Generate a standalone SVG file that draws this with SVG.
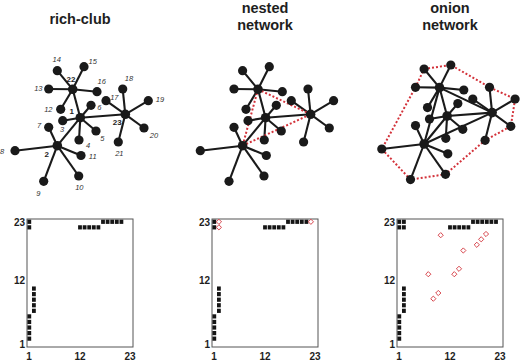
<svg xmlns="http://www.w3.org/2000/svg" xmlns:xlink="http://www.w3.org/1999/xlink" width="520" height="362" viewBox="0 0 520 362">
<style>
.t{font-family:"Liberation Sans",Arial,sans-serif;font-weight:bold;font-size:14.5px;fill:#1e1e1e;text-anchor:middle}
.ax{font-family:"Liberation Sans",Arial,sans-serif;font-weight:bold;font-size:10px;fill:#1e1e1e}
.lb{font-family:"Liberation Sans",Arial,sans-serif;font-style:italic;font-size:7.5px;fill:#333;text-anchor:middle}
.hb{font-family:"Liberation Sans",Arial,sans-serif;font-weight:bold;font-size:8px;fill:#1e1e1e;text-anchor:middle}
.e{stroke:#1a1a1a;stroke-width:2.1;fill:none}
.r{stroke:#d3323a;stroke-width:2;stroke-dasharray:2 2;fill:none}
.n{fill:#1a1a1a}
.box{fill:#fff;stroke:#555;stroke-width:1}
.sq{fill:#151515}
.dm{fill:#fff;stroke:#d3323a;stroke-width:0.9}
</style>
<defs>
<path id="dia" class="dm" d="M0,-2.6 L2.6,0 L0,2.6 L-2.6,0Z"/>
<g id="sqbase" class="sq">
<rect x="27.4" y="336.55" width="3.8" height="4.2"/><rect x="27.4" y="330.99" width="3.8" height="4.2"/><rect x="27.4" y="325.42" width="3.8" height="4.2"/><rect x="27.4" y="319.86" width="3.8" height="4.2"/><rect x="27.4" y="314.29" width="3.8" height="4.2"/>
<rect x="27.4" y="225.25" width="3.8" height="4.2"/><rect x="27.4" y="219.69" width="3.8" height="4.2"/>
<rect x="32" y="308.73" width="3.8" height="4.2"/><rect x="32" y="303.16" width="3.8" height="4.2"/><rect x="32" y="297.6" width="3.8" height="4.2"/><rect x="32" y="292.03" width="3.8" height="4.2"/><rect x="32" y="286.47" width="3.8" height="4.2"/>
<rect x="78.1" y="225.25" width="3.8" height="4.2"/><rect x="82.7" y="225.25" width="3.8" height="4.2"/><rect x="87.3" y="225.25" width="3.8" height="4.2"/><rect x="91.9" y="225.25" width="3.8" height="4.2"/><rect x="96.5" y="225.25" width="3.8" height="4.2"/>
<rect x="101.1" y="219.69" width="3.8" height="4.2"/><rect x="105.7" y="219.69" width="3.8" height="4.2"/><rect x="110.3" y="219.69" width="3.8" height="4.2"/><rect x="114.9" y="219.69" width="3.8" height="4.2"/><rect x="119.5" y="219.69" width="3.8" height="4.2"/>
</g>
<g id="axes">
<rect class="box" x="27" y="219" width="106" height="128"/>
<text class="ax" x="25" y="226" text-anchor="end">23</text>
<text class="ax" x="25" y="283.5" text-anchor="end">12</text>
<text class="ax" x="25" y="347.5" text-anchor="end">1</text>
<text class="ax" x="29" y="359.5" text-anchor="middle">1</text>
<text class="ax" x="80" y="359.5" text-anchor="middle">12</text>
<text class="ax" x="130" y="359.5" text-anchor="middle">23</text>
</g>
</defs>

<g id="titles">
<text class="t" x="80" y="23.5">rich-club</text>
<text class="t" x="265" y="12.7">nested</text>
<text class="t" x="265" y="30">network</text>
<text class="t" x="450" y="12.7">onion</text>
<text class="t" x="450" y="30">network</text>
</g>

<!-- rich-club network -->
<g id="rc">
<g id="rc-connectors" class="e">
<line x1="72.7" y1="89.3" x2="57.3" y2="70.7"/><line x1="72.7" y1="89.3" x2="84" y2="66.7"/><line x1="72.7" y1="89.3" x2="48.7" y2="89"/><line x1="72.7" y1="89.3" x2="97" y2="91.7"/><line x1="72.7" y1="89.3" x2="60.7" y2="109.3"/>
<line x1="80.3" y1="117.7" x2="62.7" y2="120.7"/><line x1="80.3" y1="117.7" x2="79" y2="140"/><line x1="80.3" y1="117.7" x2="96" y2="131"/><line x1="80.3" y1="117.7" x2="91" y2="105.3"/>
<line x1="125.3" y1="114.3" x2="106" y2="100.7"/><line x1="125.3" y1="114.3" x2="122.7" y2="89"/><line x1="125.3" y1="114.3" x2="148.3" y2="100.7"/><line x1="125.3" y1="114.3" x2="144" y2="128"/><line x1="125.3" y1="114.3" x2="118.3" y2="142"/>
<line x1="57.3" y1="145.7" x2="48.7" y2="127.3"/><line x1="57.3" y1="145.7" x2="15" y2="150.7"/><line x1="57.3" y1="145.7" x2="43.7" y2="181.3"/><line x1="57.3" y1="145.7" x2="78.7" y2="176"/><line x1="57.3" y1="145.7" x2="81" y2="155.5"/>
<line x1="80.3" y1="117.7" x2="57.3" y2="145.7"/><line x1="80.3" y1="117.7" x2="72.7" y2="89.3"/><line x1="80.3" y1="117.7" x2="125.3" y2="114.3"/>
</g>
<g id="rc-1"><circle class="n" cx="80.3" cy="117.7" r="4.8"/><text class="hb" x="71.7" y="113.9">1</text></g>
<g id="rc-2"><circle class="n" cx="57.3" cy="145.7" r="4.8"/><text class="hb" x="46.7" y="157.2">2</text></g>
<g id="rc-3"><circle class="n" cx="62.7" cy="120.7" r="4.6"/><text class="lb" x="62" y="132.4">3</text></g>
<g id="rc-4"><circle class="n" cx="79" cy="140" r="4.6"/><text class="lb" x="88" y="147.7">4</text></g>
<g id="rc-5"><circle class="n" cx="96" cy="131" r="4.6"/><text class="lb" x="102.3" y="141.4">5</text></g>
<g id="rc-6"><circle class="n" cx="91" cy="105.3" r="4.6"/><text class="lb" x="99.3" y="110.4">6</text></g>
<g id="rc-7"><circle class="n" cx="48.7" cy="127.3" r="4.6"/><text class="lb" x="39" y="128">7</text></g>
<g id="rc-8"><circle class="n" cx="15" cy="150.7" r="4.6"/><text class="lb" x="2" y="153.7">8</text></g>
<g id="rc-9"><circle class="n" cx="43.7" cy="181.3" r="4.6"/><text class="lb" x="38.3" y="196">9</text></g>
<g id="rc-10"><circle class="n" cx="78.7" cy="176" r="4.6"/><text class="lb" x="79.3" y="190">10</text></g>
<g id="rc-11"><circle class="n" cx="81" cy="155.5" r="4.6"/><text class="lb" x="92.7" y="159.4">11</text></g>
<g id="rc-12"><circle class="n" cx="60.7" cy="109.3" r="4.6"/><text class="lb" x="48.3" y="112">12</text></g>
<g id="rc-13"><circle class="n" cx="48.7" cy="89" r="4.6"/><text class="lb" x="38.3" y="91">13</text></g>
<g id="rc-14"><circle class="n" cx="57.3" cy="70.7" r="4.6"/><text class="lb" x="56.7" y="62">14</text></g>
<g id="rc-15"><circle class="n" cx="84" cy="66.7" r="4.6"/><text class="lb" x="92.7" y="64">15</text></g>
<g id="rc-16"><circle class="n" cx="97" cy="91.7" r="4.6"/><text class="lb" x="101.7" y="84.4">16</text></g>
<g id="rc-17"><circle class="n" cx="106" cy="100.7" r="4.6"/><text class="lb" x="114.3" y="100.4">17</text></g>
<g id="rc-18"><circle class="n" cx="122.7" cy="89" r="4.6"/><text class="lb" x="129" y="81">18</text></g>
<g id="rc-19"><circle class="n" cx="148.3" cy="100.7" r="4.6"/><text class="lb" x="160" y="102">19</text></g>
<g id="rc-20"><circle class="n" cx="144" cy="128" r="4.6"/><text class="lb" x="154" y="138">20</text></g>
<g id="rc-21"><circle class="n" cx="118.3" cy="142" r="4.6"/><text class="lb" x="119.3" y="156.4">21</text></g>
<g id="rc-22"><circle class="n" cx="72.7" cy="89.3" r="4.8"/><text class="hb" x="71" y="82.2">22</text></g>
<g id="rc-23"><circle class="n" cx="125.3" cy="114.3" r="4.8"/><text class="hb" x="117.3" y="124.9">23</text></g>
</g>

<!-- nested network -->
<g id="nn" transform="translate(185.3,0)">
<g id="nn-connectors">
<g class="e">
<line x1="72.7" y1="89.3" x2="57.3" y2="70.7"/><line x1="72.7" y1="89.3" x2="84" y2="66.7"/><line x1="72.7" y1="89.3" x2="48.7" y2="89"/><line x1="72.7" y1="89.3" x2="97" y2="91.7"/><line x1="72.7" y1="89.3" x2="60.7" y2="109.3"/>
<line x1="80.3" y1="117.7" x2="62.7" y2="120.7"/><line x1="80.3" y1="117.7" x2="79" y2="140"/><line x1="80.3" y1="117.7" x2="96" y2="131"/><line x1="80.3" y1="117.7" x2="91" y2="105.3"/>
<line x1="125.3" y1="114.3" x2="106" y2="100.7"/><line x1="125.3" y1="114.3" x2="122.7" y2="89"/><line x1="125.3" y1="114.3" x2="148.3" y2="100.7"/><line x1="125.3" y1="114.3" x2="144" y2="128"/><line x1="125.3" y1="114.3" x2="118.3" y2="142"/>
<line x1="57.3" y1="145.7" x2="48.7" y2="127.3"/><line x1="57.3" y1="145.7" x2="15" y2="150.7"/><line x1="57.3" y1="145.7" x2="43.7" y2="181.3"/><line x1="57.3" y1="145.7" x2="78.7" y2="176"/><line x1="57.3" y1="145.7" x2="81" y2="155.5"/>
<line x1="80.3" y1="117.7" x2="57.3" y2="145.7"/><line x1="80.3" y1="117.7" x2="72.7" y2="89.3"/><line x1="80.3" y1="117.7" x2="125.3" y2="114.3"/>
</g>
<g class="r">
<line x1="72.7" y1="89.3" x2="57.3" y2="145.7"/><line x1="72.7" y1="89.3" x2="125.3" y2="114.3"/><line x1="57.3" y1="145.7" x2="125.3" y2="114.3"/>
</g>
</g>
<g id="nn-1"><circle class="n" cx="80.3" cy="117.7" r="4.8"/></g>
<g id="nn-2"><circle class="n" cx="57.3" cy="145.7" r="4.8"/></g>
<g id="nn-3"><circle class="n" cx="62.7" cy="120.7" r="4.6"/></g>
<g id="nn-4"><circle class="n" cx="79" cy="140" r="4.6"/></g>
<g id="nn-5"><circle class="n" cx="96" cy="131" r="4.6"/></g>
<g id="nn-6"><circle class="n" cx="91" cy="105.3" r="4.6"/></g>
<g id="nn-7"><circle class="n" cx="48.7" cy="127.3" r="4.6"/></g>
<g id="nn-8"><circle class="n" cx="15" cy="150.7" r="4.6"/></g>
<g id="nn-9"><circle class="n" cx="43.7" cy="181.3" r="4.6"/></g>
<g id="nn-10"><circle class="n" cx="78.7" cy="176" r="4.6"/></g>
<g id="nn-11"><circle class="n" cx="81" cy="155.5" r="4.6"/></g>
<g id="nn-12"><circle class="n" cx="60.7" cy="109.3" r="4.6"/></g>
<g id="nn-13"><circle class="n" cx="48.7" cy="89" r="4.6"/></g>
<g id="nn-14"><circle class="n" cx="57.3" cy="70.7" r="4.6"/></g>
<g id="nn-15"><circle class="n" cx="84" cy="66.7" r="4.6"/></g>
<g id="nn-16"><circle class="n" cx="97" cy="91.7" r="4.6"/></g>
<g id="nn-17"><circle class="n" cx="106" cy="100.7" r="4.6"/></g>
<g id="nn-18"><circle class="n" cx="122.7" cy="89" r="4.6"/></g>
<g id="nn-19"><circle class="n" cx="148.3" cy="100.7" r="4.6"/></g>
<g id="nn-20"><circle class="n" cx="144" cy="128" r="4.6"/></g>
<g id="nn-21"><circle class="n" cx="118.3" cy="142" r="4.6"/></g>
<g id="nn-22"><circle class="n" cx="72.7" cy="89.3" r="4.8"/></g>
<g id="nn-23"><circle class="n" cx="125.3" cy="114.3" r="4.8"/></g>
</g>

<!-- onion network -->
<g id="on" transform="translate(366.8,-1.7)">
<g id="on-connectors">
<g class="r">
<polyline points="57.3,70.7 84,66.7 122.7,89 148.3,100.7 144,128 118.3,142 78.7,176 43.7,181.3 15,150.7 48.7,89 57.3,70.7"/>
</g>
<g class="e">
<line x1="72.7" y1="89.3" x2="57.3" y2="70.7"/><line x1="72.7" y1="89.3" x2="84" y2="66.7"/><line x1="72.7" y1="89.3" x2="48.7" y2="89"/><line x1="72.7" y1="89.3" x2="97" y2="91.7"/><line x1="72.7" y1="89.3" x2="60.7" y2="109.3"/>
<line x1="80.3" y1="117.7" x2="62.7" y2="120.7"/><line x1="80.3" y1="117.7" x2="79" y2="140"/><line x1="80.3" y1="117.7" x2="96" y2="131"/><line x1="80.3" y1="117.7" x2="91" y2="105.3"/>
<line x1="125.3" y1="114.3" x2="106" y2="100.7"/><line x1="125.3" y1="114.3" x2="122.7" y2="89"/><line x1="125.3" y1="114.3" x2="148.3" y2="100.7"/><line x1="125.3" y1="114.3" x2="144" y2="128"/><line x1="125.3" y1="114.3" x2="118.3" y2="142"/>
<line x1="57.3" y1="145.7" x2="48.7" y2="127.3"/><line x1="57.3" y1="145.7" x2="15" y2="150.7"/><line x1="57.3" y1="145.7" x2="43.7" y2="181.3"/><line x1="57.3" y1="145.7" x2="78.7" y2="176"/><line x1="57.3" y1="145.7" x2="81" y2="155.5"/>
<line x1="80.3" y1="117.7" x2="57.3" y2="145.7"/><line x1="80.3" y1="117.7" x2="72.7" y2="89.3"/><line x1="80.3" y1="117.7" x2="125.3" y2="114.3"/>
<line x1="72.7" y1="89.3" x2="57.3" y2="145.7"/><line x1="72.7" y1="89.3" x2="125.3" y2="114.3"/><line x1="57.3" y1="145.7" x2="125.3" y2="114.3"/>
</g>
</g>
<g id="on-1"><circle class="n" cx="80.3" cy="117.7" r="4.8"/></g>
<g id="on-2"><circle class="n" cx="57.3" cy="145.7" r="4.8"/></g>
<g id="on-3"><circle class="n" cx="62.7" cy="120.7" r="4.6"/></g>
<g id="on-4"><circle class="n" cx="79" cy="140" r="4.6"/></g>
<g id="on-5"><circle class="n" cx="96" cy="131" r="4.6"/></g>
<g id="on-6"><circle class="n" cx="91" cy="105.3" r="4.6"/></g>
<g id="on-7"><circle class="n" cx="48.7" cy="127.3" r="4.6"/></g>
<g id="on-8"><circle class="n" cx="15" cy="150.7" r="4.6"/></g>
<g id="on-9"><circle class="n" cx="43.7" cy="181.3" r="4.6"/></g>
<g id="on-10"><circle class="n" cx="78.7" cy="176" r="4.6"/></g>
<g id="on-11"><circle class="n" cx="81" cy="155.5" r="4.6"/></g>
<g id="on-12"><circle class="n" cx="60.7" cy="109.3" r="4.6"/></g>
<g id="on-13"><circle class="n" cx="48.7" cy="89" r="4.6"/></g>
<g id="on-14"><circle class="n" cx="57.3" cy="70.7" r="4.6"/></g>
<g id="on-15"><circle class="n" cx="84" cy="66.7" r="4.6"/></g>
<g id="on-16"><circle class="n" cx="97" cy="91.7" r="4.6"/></g>
<g id="on-17"><circle class="n" cx="106" cy="100.7" r="4.6"/></g>
<g id="on-18"><circle class="n" cx="122.7" cy="89" r="4.6"/></g>
<g id="on-19"><circle class="n" cx="148.3" cy="100.7" r="4.6"/></g>
<g id="on-20"><circle class="n" cx="144" cy="128" r="4.6"/></g>
<g id="on-21"><circle class="n" cx="118.3" cy="142" r="4.6"/></g>
<g id="on-22"><circle class="n" cx="72.7" cy="89.3" r="4.8"/></g>
<g id="on-23"><circle class="n" cx="125.3" cy="114.3" r="4.8"/></g>
</g>

<!-- matrices -->
<g id="mat-rc">
<use xlink:href="#axes"/>
<use xlink:href="#sqbase"/>
</g>
<g id="mat-nn">
<use xlink:href="#axes" x="185"/>
<use xlink:href="#sqbase" x="185"/>
<use xlink:href="#dia" x="218.9" y="221.8"/>
<use xlink:href="#dia" x="218.9" y="227.35"/>
<use xlink:href="#dia" x="310.9" y="221.8"/>
</g>
<g id="mat-on">
<use xlink:href="#axes" x="370"/>
<use xlink:href="#sqbase" x="370"/>
<g class="sq">
<rect x="402" y="225.25" width="3.8" height="4.2"/><rect x="402" y="219.69" width="3.8" height="4.2"/>
<rect x="494.1" y="219.69" width="3.8" height="4.2"/>
</g>
<use xlink:href="#dia" x="440.7" y="235.2"/>
<use xlink:href="#dia" x="486" y="234"/>
<use xlink:href="#dia" x="481.2" y="239.3"/>
<use xlink:href="#dia" x="476.8" y="244.8"/>
<use xlink:href="#dia" x="463.3" y="250.5"/>
<use xlink:href="#dia" x="428.3" y="274.2"/>
<use xlink:href="#dia" x="459" y="268.8"/>
<use xlink:href="#dia" x="454.3" y="274.2"/>
<use xlink:href="#dia" x="438.3" y="293"/>
<use xlink:href="#dia" x="433.3" y="298.7"/>
</g>
</svg>
